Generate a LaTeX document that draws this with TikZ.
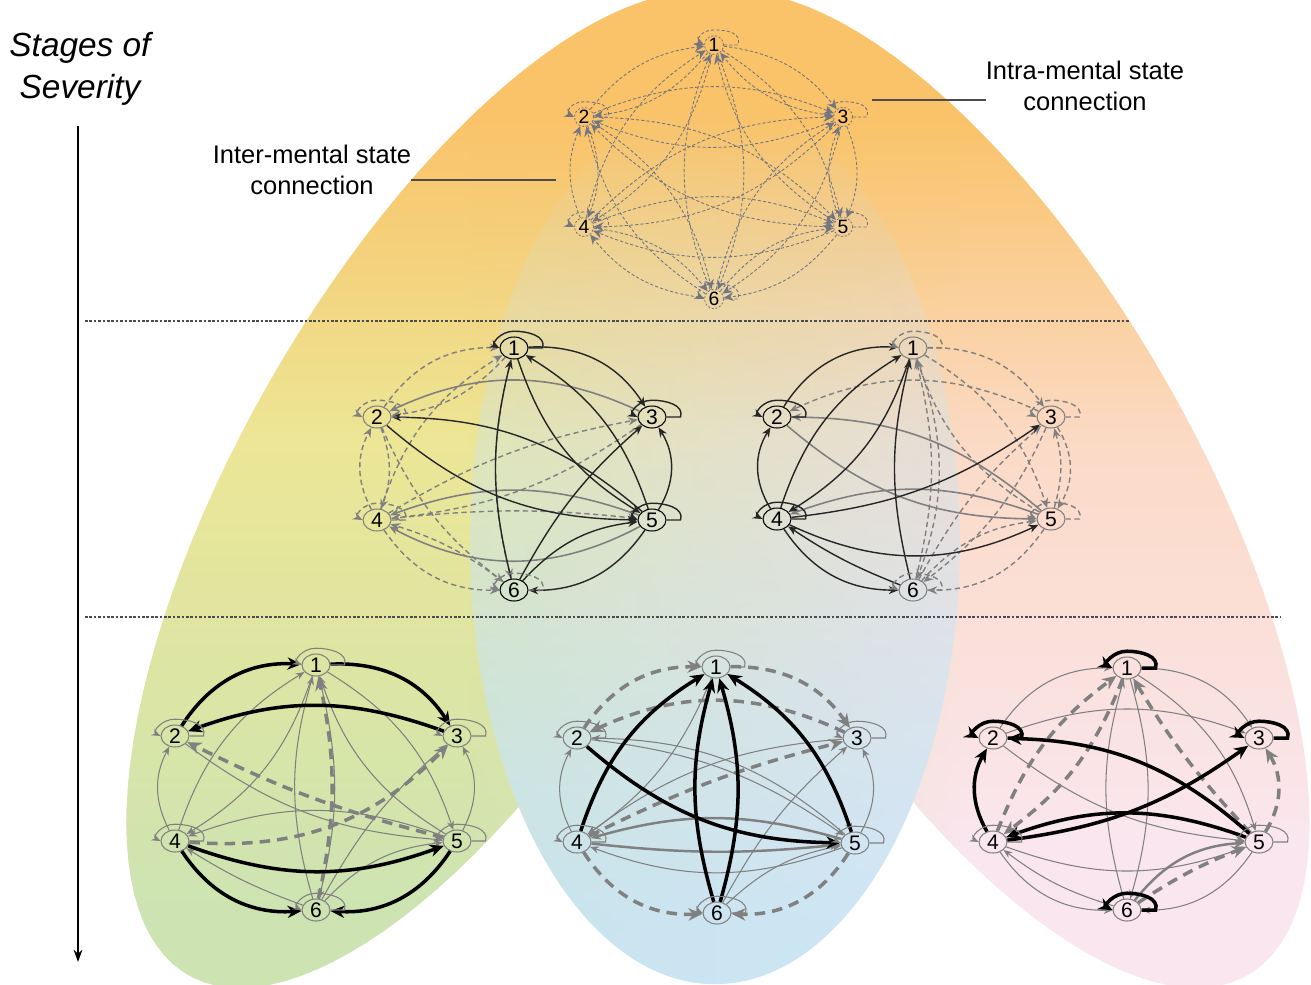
\documentclass[tikz,border=0pt]{standalone}
\usepackage{fontspec}
\setmainfont{Liberation Sans}
\usetikzlibrary{arrows.meta, shapes.geometric, fadings}
\definecolor{bgorange}{RGB}{250,195,105}
\definecolor{bgyellow}{RGB}{236,230,150}
\definecolor{bggreen}{RGB}{205,228,178}
\definecolor{bgpeach}{RGB}{251,218,198}
\definecolor{bgpink}{RGB}{250,230,238}
\definecolor{bgblue}{RGB}{200,229,248}
\definecolor{edgegray}{RGB}{128,128,128}
\definecolor{topgray}{RGB}{115,118,128}

% background shadings (path box maps to 25bp..75bp)
\pgfdeclareverticalshading{leftlobe}{100bp}{color(0bp)=(bggreen); color(29bp)=(bggreen);
  color(52.5bp)=(bgyellow); color(69bp)=(bgorange); color(100bp)=(bgorange)}
\pgfdeclareverticalshading{rightlobe}{100bp}{color(0bp)=(bgpink); color(32.5bp)=(bgpink);
  color(52.5bp)=(bgpeach); color(69bp)=(bgorange); color(100bp)=(bgorange)}
\tikzfading[name=fade blue, top color=transparent!100, bottom color=transparent!10]
\tikzfading[name=fade right, left color=transparent!0, right color=transparent!100]

\tikzset{
  st/.style={ellipse, draw=edgegray, line width=0.6pt, inner sep=0pt,
    minimum width=0.56cm, minimum height=0.44cm, font=\fontsize{12}{12}\selectfont},
  sttop/.style={st, draw=topgray, dash pattern=on 1.2pt off 1pt, line width=0.45pt,
    minimum width=0.38cm, minimum height=0.34cm, font=\fontsize{11}{11}\selectfont},
  topedge/.style={draw=topgray, line width=0.5pt, dash pattern=on 1.8pt off 1.2pt, -{Stealth[length=5.5pt,width=5pt]}},
  midblack/.style={draw=black!85, line width=0.8pt, -{Stealth[length=5.5pt,width=4.5pt]}},
  midgray/.style={draw=edgegray, line width=0.9pt, -{Stealth[length=5.5pt,width=4.5pt]}},
  middash/.style={draw=edgegray, line width=0.8pt, dash pattern=on 3pt off 2pt, -{Stealth[length=5.5pt,width=4.5pt]}},
  thinedge/.style={draw=edgegray, line width=0.6pt, -{Stealth[length=5pt,width=4pt]}},
  medgray/.style={draw=edgegray, line width=1.4pt, -{Stealth[length=6pt,width=5pt]}},
  boldedge/.style={draw=black, line width=2pt, -{Stealth[length=8pt,width=7pt]}},
  bolddash/.style={draw=edgegray, line width=2pt, dash pattern=on 6pt off 4pt, -{Stealth[length=8pt,width=7pt]}},
  sepline/.style={draw=black!70, line width=0.6pt, dash pattern=on 1.5pt off 1pt},
  callout/.style={draw=black!70, line width=0.7pt},
  lobe/.style={domain=0:360, samples=120, variable=\t},
}

% self loop drawn as a flat hat over the node
\newcommand{\selfloop}[2]{%
  \draw[#2] (#1.east) -- ++(14,0) .. controls +(4,-12) and +(14,0) .. ([yshift=3pt]#1.north)
    .. controls +(-14,0) and +(-8,-4) .. (#1.west);}

\begin{document}
\begin{tikzpicture}[x=0.02cm, y=-0.02cm]
  \useasboundingbox (0,0) rectangle (1311,984);

  % coloured regions: two tilted lobes, a cap on top and the blue lobe, all joined
  \begin{scope}
    \clip plot[lobe] ({468+280*cos(\t)+195.7*sin(\t)}, {490-485*cos(\t)+113*sin(\t)}) -- cycle
          plot[lobe] ({968-280*cos(\t)+195.7*sin(\t)}, {490-485*cos(\t)-113*sin(\t)}) -- cycle
          plot[lobe] ({718+330*sin(\t)}, {330-316*cos(\t)}) -- cycle
          plot[lobe] ({715+245*sin(\t)}, {542-442*cos(\t)}) -- cycle;
    \shade[shading=rightlobe] (0,0) rectangle (1311,984);
    \shade[shading=leftlobe] (0,0) rectangle (470,984);
    \shade[shading=leftlobe, path fading=fade right] (470,0) rectangle (960,984);
  \end{scope}
  \fill[bgblue, path fading=fade blue] (715,542) ellipse [x radius=4.9cm, y radius=8.84cm];

  % stage separators
  \draw[sepline] (85,321) -- (1130,321);
  \draw[sepline] (85,617) -- (1280,617);

  % labels
  \node[font=\fontsize{19}{24}\selectfont\itshape, align=center] (stages) at (80,69) {Stages of\\Severity};
  \coordinate (axisend) at (78,962);
  \draw[line width=0.7pt, -{Stealth[length=7pt,width=5pt]}] (stages.south -| axisend) ++(0,14) -- (axisend);
  \node[font=\fontsize{14.5}{17.5}\selectfont, align=center, inner sep=0pt] (inter) at (312,170) {Inter-mental state\\connection};
  \coordinate (interpt) at (556,180);
  \draw[callout] (inter.east |- interpt) -- (interpt);
  \node[font=\fontsize{14.5}{17.5}\selectfont, align=center, inner sep=0pt] (intra) at (1085,86) {Intra-mental state\\connection};
  \coordinate (intrapt) at (872,100);
  \draw[callout] (intrapt) -- (intrapt -| intra.west);

  % top stage: every connection dashed
  \foreach \n/\px/\py in {1/714/45, 2/584/117, 3/843/117, 4/584/227, 5/843/227, 6/714/299}
    \node[sttop] (T-\n) at (\px,\py) {\n};
  \foreach \a in {1,...,6}
    \foreach \b in {1,...,6}
      {\ifnum\a=\b\else\draw[topedge] (T-\a) to[bend left=22] (T-\b);\fi}
  \foreach \n in {1,...,6} \selfloop{T-\n}{topedge};

  % middle stage, left
  \foreach \n/\px/\py/\c in {1/514/348/black, 2/377/417/edgegray, 3/652/417/black,
      4/377/520/edgegray, 5/652/520/black, 6/514/590/black}
    \node[st, draw=\c] (ML-\n) at (\px,\py) {\n};
  \foreach \a/\b/\s in {2/1/28, 4/1/20, 1/2/20, 4/2/28, 2/4/20, 4/3/10, 3/4/14, 4/6/-28,
      6/4/-10, 1/6/-14, 2/6/-14, 4/5/6}
    \draw[middash] (ML-\a) to[bend left=\s] (ML-\b);
  \foreach \a/\b/\s in {3/2/-25, 5/4/-20, 5/4/28}
    \draw[midgray] (ML-\a) to[bend left=\s] (ML-\b);
  \foreach \a/\b/\s in {1/3/30, 5/1/-20, 1/5/-20, 6/1/14, 6/3/10, 5/3/-32, 6/5/20, 5/6/28,
      2/5/-20, 5/2/-20}
    \draw[midblack] (ML-\a) to[bend left=\s] (ML-\b);
  \foreach \n in {2,4,6} \selfloop{ML-\n}{middash};
  \foreach \n in {1,3,5} \selfloop{ML-\n}{midblack};

  % middle stage, right
  \foreach \n/\px/\py/\c in {1/913/348/edgegray, 2/777/417/black, 3/1051/417/edgegray,
      4/777/519/black, 5/1051/519/edgegray, 6/913/590/edgegray}
    \node[st, draw=\c] (MR-\n) at (\px,\py) {\n};
  \foreach \a/\b/\s in {1/3/28, 3/2/-25, 1/5/20, 5/1/20, 1/6/20, 6/1/-14, 3/5/32, 5/3/-16,
      6/3/10, 3/6/14, 6/5/20, 5/6/28}
    \draw[middash] (MR-\a) to[bend left=\s] (MR-\b);
  \foreach \a/\b/\s in {5/2/-20, 2/5/-20, 5/4/-20}
    \draw[midgray] (MR-\a) to[bend left=\s] (MR-\b);
  \foreach \a/\b/\s in {2/1/30, 4/1/20, 1/4/20, 6/1/14, 4/2/32, 4/3/-14, 4/5/-25, 4/6/-28, 6/4/6}
    \draw[midblack] (MR-\a) to[bend left=\s] (MR-\b);
  \foreach \n in {1,3,5,6} \selfloop{MR-\n}{middash};
  \foreach \n in {2,4} \selfloop{MR-\n}{midblack};

  % bottom stage, left
  \foreach \n/\px/\py in {1/316/665, 2/175/736, 3/457/736, 4/175/841, 5/457/841, 6/316/910}
    \node[st] (BL-\n) at (\px,\py) {\n};
  \foreach \a/\b/\s in {4/2/28, 5/3/-28, 4/1/20, 1/4/20, 6/1/16, 1/6/14, 5/1/20, 1/5/20,
      2/5/-16, 5/4/-20, 6/4/6, 6/5/20, 6/3/10}
    \draw[thinedge] (BL-\a) to[bend left=\s] (BL-\b);
  \foreach \a/\b/\s in {5/2/6, 4/3/-25, 6/1/-12}
    \draw[bolddash] (BL-\a) to[bend left=\s] (BL-\b);
  \foreach \a/\b/\s in {2/1/30, 1/3/30, 3/2/-20, 4/5/-20, 4/6/-30, 5/6/30}
    \draw[boldedge] (BL-\a) to[bend left=\s] (BL-\b);
  \foreach \n in {1,...,6} \selfloop{BL-\n}{thinedge};

  % bottom stage, centre
  \foreach \n/\px/\py in {1/716/667, 2/577/738, 3/857/738, 4/577/842, 5/855/843, 6/717/913}
    \node[st] (BC-\n) at (\px,\py) {\n};
  \foreach \a/\b/\s in {4/2/28, 5/3/-28, 5/2/-20, 5/4/20, 3/4/-16, 1/5/20, 6/3/10, 6/5/16,
      1/4/16, 2/5/14}
    \draw[thinedge] (BC-\a) to[bend left=\s] (BC-\b);
  \foreach \a/\b/\s in {5/4/-16, 4/5/-6}
    \draw[medgray] (BC-\a) to[bend left=\s] (BC-\b);
  \foreach \a/\b/\s in {2/1/28, 1/3/28, 3/2/-25, 4/3/6, 4/6/-30, 5/6/30}
    \draw[bolddash] (BC-\a) to[bend left=\s] (BC-\b);
  \foreach \a/\b/\s in {4/1/20, 6/1/16, 6/1/-16, 5/1/-20, 2/5/-20}
    \draw[boldedge] (BC-\a) to[bend left=\s] (BC-\b);
  \foreach \n in {1,...,6} \selfloop{BC-\n}{thinedge};

  % bottom stage, right
  \foreach \n/\px/\py in {1/1127/668, 2/993/738, 3/1259/738, 4/993/842, 5/1259/842, 6/1127/910}
    \node[st] (BR-\n) at (\px,\py) {\n};
  \foreach \a/\b/\s in {2/1/28, 1/3/28, 2/3/20, 6/1/16, 1/6/16, 4/5/-20, 4/6/-28, 5/6/28,
      2/5/-16, 1/5/20, 6/4/10}
    \draw[thinedge] (BR-\a) to[bend left=\s] (BR-\b);
  \draw[medgray] (BR-6) to[bend left=24] (BR-5);
  \foreach \a/\b/\s in {4/1/16, 1/4/16, 5/1/6, 5/3/-32, 6/5/6}
    \draw[bolddash] (BR-\a) to[bend left=\s] (BR-\b);
  \foreach \a/\b/\s in {5/2/-20, 4/3/-14, 5/4/-20, 4/2/30}
    \draw[boldedge] (BR-\a) to[bend left=\s] (BR-\b);
  \foreach \n in {4,5} \selfloop{BR-\n}{thinedge};
  \foreach \n in {1,2,3,6} \selfloop{BR-\n}{boldedge};
\end{tikzpicture}
\end{document}
